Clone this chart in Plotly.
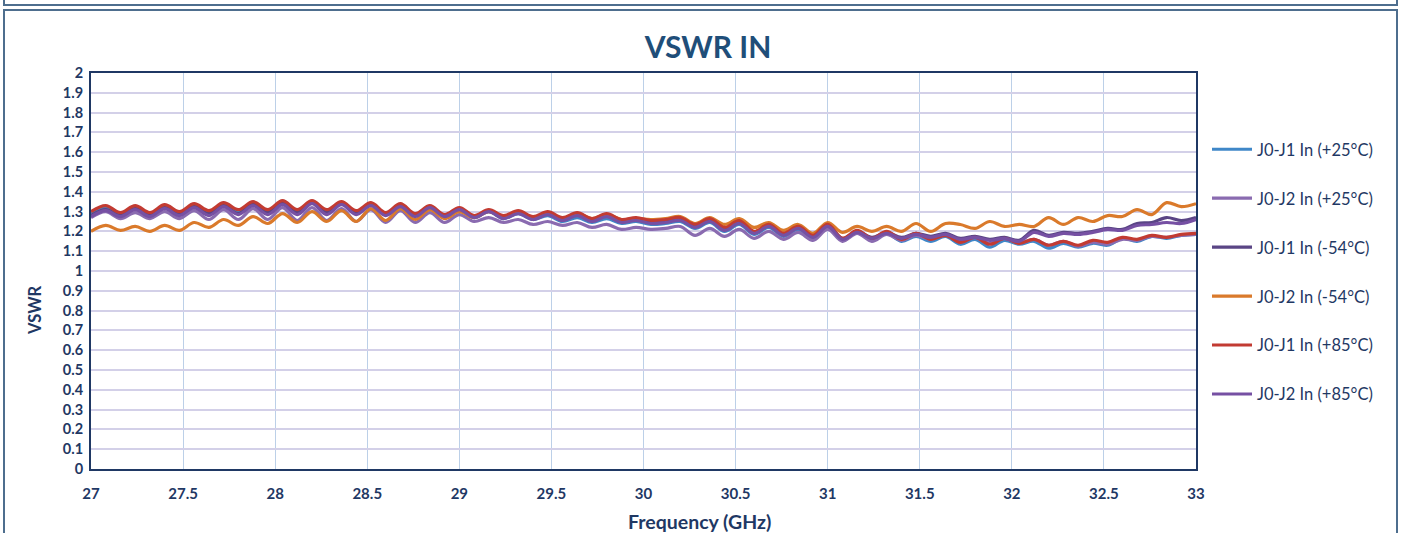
import plotly.graph_objects as go

freq_ghz = [27.00, 27.08, 27.16, 27.24, 27.32, 27.40, 27.48, 27.56, 27.64, 27.72,
            27.80, 27.88, 27.96, 28.04, 28.12, 28.20, 28.28, 28.36, 28.44, 28.52,
            28.60, 28.68, 28.76, 28.84, 28.92, 29.00, 29.08, 29.16, 29.24, 29.32,
            29.40, 29.48, 29.56, 29.64, 29.72, 29.80, 29.88, 29.96, 30.04, 30.12,
            30.20, 30.28, 30.36, 30.44, 30.52, 30.60, 30.68, 30.76, 30.84, 30.92,
            31.00, 31.08, 31.16, 31.24, 31.32, 31.40, 31.48, 31.56, 31.64, 31.72,
            31.80, 31.88, 31.96, 32.04, 32.12, 32.20, 32.28, 32.36, 32.44, 32.52,
            32.60, 32.68, 32.76, 32.84, 32.92, 33.00]

j0j1_p25 = [1.29, 1.32, 1.285, 1.32, 1.285, 1.325, 1.29, 1.33, 1.295, 1.335,
            1.30, 1.34, 1.30, 1.345, 1.30, 1.345, 1.30, 1.34, 1.295, 1.335,
            1.285, 1.33, 1.28, 1.32, 1.275, 1.31, 1.27, 1.30, 1.265, 1.29,
            1.26, 1.28, 1.25, 1.27, 1.245, 1.265, 1.24, 1.25, 1.235, 1.24,
            1.25, 1.215, 1.245, 1.20, 1.235, 1.185, 1.22, 1.175, 1.21, 1.165,
            1.22, 1.155, 1.195, 1.155, 1.19, 1.15, 1.175, 1.15, 1.175, 1.135,
            1.16, 1.12, 1.155, 1.135, 1.15, 1.115, 1.14, 1.12, 1.14, 1.13,
            1.165, 1.15, 1.175, 1.165, 1.18, 1.185]

j0j2_p25 = [1.27, 1.30, 1.265, 1.295, 1.265, 1.30, 1.265, 1.305, 1.26, 1.31,
            1.26, 1.315, 1.26, 1.32, 1.255, 1.32, 1.255, 1.315, 1.25, 1.31,
            1.245, 1.305, 1.245, 1.295, 1.245, 1.285, 1.25, 1.27, 1.245, 1.26,
            1.235, 1.25, 1.23, 1.245, 1.22, 1.235, 1.21, 1.22, 1.21, 1.215,
            1.225, 1.18, 1.215, 1.175, 1.21, 1.165, 1.20, 1.16, 1.195, 1.155,
            1.21, 1.15, 1.19, 1.15, 1.185, 1.155, 1.18, 1.16, 1.18, 1.15,
            1.17, 1.14, 1.165, 1.14, 1.16, 1.13, 1.15, 1.125, 1.145, 1.135,
            1.16, 1.155, 1.175, 1.17, 1.18, 1.185]

j0j1_m54 = [1.28, 1.31, 1.28, 1.315, 1.28, 1.32, 1.285, 1.325, 1.29, 1.33,
            1.29, 1.34, 1.295, 1.345, 1.295, 1.345, 1.295, 1.345, 1.295, 1.34,
            1.29, 1.335, 1.285, 1.325, 1.28, 1.315, 1.275, 1.305, 1.27, 1.295,
            1.265, 1.29, 1.26, 1.285, 1.255, 1.28, 1.25, 1.26, 1.245, 1.25,
            1.26, 1.225, 1.255, 1.21, 1.245, 1.195, 1.23, 1.185, 1.22, 1.175,
            1.23, 1.165, 1.20, 1.17, 1.195, 1.17, 1.19, 1.175, 1.19, 1.165,
            1.175, 1.16, 1.17, 1.155, 1.205, 1.18, 1.195, 1.19, 1.20, 1.215,
            1.21, 1.24, 1.245, 1.27, 1.255, 1.27]

j0j2_m54 = [1.20, 1.23, 1.205, 1.225, 1.20, 1.23, 1.205, 1.245, 1.22, 1.26,
            1.23, 1.275, 1.24, 1.29, 1.245, 1.30, 1.25, 1.305, 1.25, 1.315,
            1.255, 1.315, 1.26, 1.31, 1.265, 1.30, 1.27, 1.30, 1.27, 1.295,
            1.27, 1.295, 1.265, 1.29, 1.265, 1.285, 1.26, 1.265, 1.26, 1.265,
            1.275, 1.24, 1.27, 1.235, 1.265, 1.22, 1.245, 1.205, 1.235, 1.19,
            1.245, 1.195, 1.225, 1.20, 1.225, 1.20, 1.24, 1.20, 1.24, 1.235,
            1.215, 1.25, 1.225, 1.235, 1.225, 1.27, 1.235, 1.27, 1.25, 1.28,
            1.275, 1.31, 1.285, 1.345, 1.325, 1.34]

j0j1_p85 = [1.30, 1.33, 1.295, 1.33, 1.295, 1.335, 1.30, 1.34, 1.305, 1.345,
            1.31, 1.35, 1.31, 1.355, 1.31, 1.355, 1.31, 1.35, 1.305, 1.345,
            1.295, 1.34, 1.29, 1.33, 1.285, 1.32, 1.28, 1.31, 1.28, 1.305,
            1.275, 1.30, 1.27, 1.295, 1.265, 1.29, 1.26, 1.27, 1.255, 1.26,
            1.27, 1.235, 1.265, 1.22, 1.255, 1.20, 1.235, 1.19, 1.225, 1.18,
            1.235, 1.165, 1.205, 1.165, 1.20, 1.16, 1.19, 1.16, 1.18, 1.145,
            1.17, 1.135, 1.165, 1.14, 1.16, 1.13, 1.15, 1.13, 1.155, 1.145,
            1.17, 1.16, 1.18, 1.17, 1.185, 1.19]

j0j2_p85 = [1.275, 1.305, 1.275, 1.31, 1.275, 1.315, 1.28, 1.32, 1.28, 1.325,
            1.285, 1.33, 1.285, 1.335, 1.285, 1.34, 1.285, 1.335, 1.285, 1.33,
            1.28, 1.325, 1.275, 1.32, 1.275, 1.31, 1.27, 1.30, 1.265, 1.29,
            1.26, 1.285, 1.255, 1.28, 1.25, 1.275, 1.245, 1.255, 1.24, 1.245,
            1.255, 1.22, 1.25, 1.205, 1.24, 1.19, 1.225, 1.18, 1.215, 1.17,
            1.225, 1.16, 1.195, 1.165, 1.19, 1.165, 1.185, 1.17, 1.185, 1.16,
            1.17, 1.155, 1.165, 1.15, 1.195, 1.175, 1.19, 1.185, 1.195, 1.21,
            1.205, 1.23, 1.235, 1.245, 1.24, 1.26]

series_names = ["J0-J1 In (+25°C)", "J0-J2 In (+25°C)", "J0-J1 In (-54°C)",
                "J0-J2 In (-54°C)", "J0-J1 In (+85°C)", "J0-J2 In (+85°C)"]
series_values = [j0j1_p25, j0j2_p25, j0j1_m54, j0j2_m54, j0j1_p85, j0j2_p85]
series_colors = ["#3F87C8", "#8A6BB0", "#5A4585", "#DA7A2B", "#C23B32", "#7650A3"]

y_ticks = [round(i * 0.1, 1) for i in range(21)]
y_tick_labels = ["0", "0.1", "0.2", "0.3", "0.4", "0.5", "0.6", "0.7", "0.8", "0.9", "1",
                 "1.1", "1.2", "1.3", "1.4", "1.5", "1.6", "1.7", "1.8", "1.9", "2"]
x_ticks = [27, 27.5, 28, 28.5, 29, 29.5, 30, 30.5, 31, 31.5, 32, 32.5, 33]
x_tick_labels = ["27", "27.5", "28", "28.5", "29", "29.5", "30", "30.5", "31", "31.5", "32", "32.5", "33"]

NAVY = "#1F3864"
FONT = "Lato"

fig = go.Figure()
for k in range(6):
    fig.add_trace(go.Scatter(
        x=freq_ghz, y=series_values[k], name=series_names[k], mode="lines",
        line=dict(color=series_colors[k], width=3.2, shape="spline", smoothing=1.0),
        legendgroup=str(k), legendrank=k + 1,
    ))

W, H = 1403, 533
L, R, T, B = 91, 1196, 73, 469


def px_x(p):
    return (p - L) / (R - L)


def px_y(p):
    return (B - p) / (B - T)


shapes = [
    dict(type="rect", xref="paper", yref="paper", x0=px_x(4), x1=px_x(1397), y0=px_y(5), y1=px_y(-20),
         line=dict(color="#4E6E8E", width=2), fillcolor="rgba(0,0,0,0)", layer="below"),
    dict(type="rect", xref="paper", yref="paper", x0=px_x(4), x1=px_x(1397), y0=px_y(560), y1=px_y(10),
         line=dict(color="#4E6E8E", width=2), fillcolor="rgba(0,0,0,0)", layer="below"),
]

annotations = [
    dict(text="Frequency (GHz)", xref="paper", yref="paper", x=px_x(699), y=px_y(521),
         xanchor="center", yanchor="middle", showarrow=False,
         font=dict(family=FONT, size=19.5, color=NAVY, weight="bold")),
    dict(text="VSWR", xref="paper", yref="paper", x=px_x(35), y=px_y(311),
         xanchor="center", yanchor="middle", showarrow=False, textangle=-90,
         font=dict(family=FONT, size=16.5, color=NAVY, weight="bold")),
]

fig.update_layout(
    width=W, height=H,
    margin=dict(l=L, r=W - R, t=T, b=H - B, autoexpand=False),
    paper_bgcolor="white", plot_bgcolor="white",
    title=dict(text="VSWR IN", x=708 / W, xanchor="center", y=1 - 47 / H, yanchor="middle",
               font=dict(family=FONT, size=30, color="#1F4E79", weight="bold")),
    font=dict(family=FONT, color=NAVY),
    xaxis=dict(range=[27, 33], tickmode="array", tickvals=x_ticks, ticktext=x_tick_labels,
               showgrid=True, gridcolor="#BCD0E8", gridwidth=1,
               showline=True, linecolor=NAVY, linewidth=2, mirror=True,
               ticks="", ticklabelstandoff=10,
               tickfont=dict(family=FONT, size=15, color=NAVY, weight="bold"),
               zeroline=False),
    yaxis=dict(range=[0, 2], tickmode="array", tickvals=y_ticks, ticktext=y_tick_labels,
               showgrid=True, gridcolor="#D3D0E8", gridwidth=2,
               showline=True, linecolor=NAVY, linewidth=2, mirror=True,
               ticks="", ticklabelstandoff=3,
               tickfont=dict(family=FONT, size=14.5, color=NAVY, weight="bold"),
               zeroline=False),
    legend=dict(x=px_x(1207), y=px_y(132), xanchor="left", yanchor="top",
                font=dict(family=FONT, size=16.5, color=NAVY),
                tracegroupgap=24.5, itemwidth=40, bgcolor="rgba(0,0,0,0)"),
    shapes=shapes,
    annotations=annotations,
    showlegend=True,
)

fig.write_html("out.html", config={"displayModeBar": False},
               post_script="document.body.style.margin='0';")
